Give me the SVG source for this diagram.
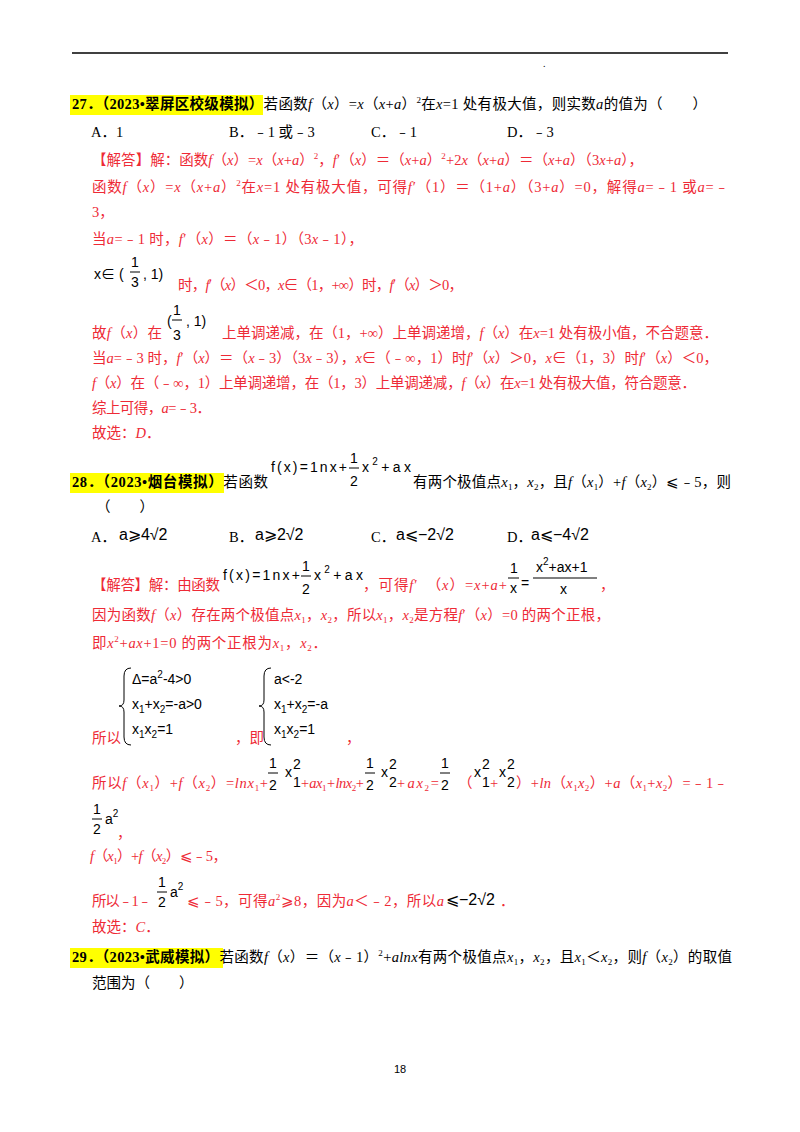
<svg xmlns="http://www.w3.org/2000/svg" width="800" height="1132" viewBox="0 0 800 1132">
<style>
text{font-family:"Liberation Serif","Noto Sans CJK SC",serif;font-size:14.5px;fill:#000}
.r{fill:#ee2a36}
.m{font-family:"Liberation Sans","Noto Sans CJK SC",sans-serif;font-size:14px;fill:#000}
.o{font-family:"Liberation Sans",sans-serif;font-size:16px;fill:#000}
.s{font-size:10px}
.hl{fill:#ffff00}
.fl{stroke:#000;stroke-width:1}
</style>
<rect width="800" height="1132" fill="#fff"/>
<line x1="72" y1="53" x2="728" y2="53" stroke="#000" stroke-width="1.5"/>
<text x="543" y="67" class="s">.</text>

<rect class="hl" x="70" y="95" width="193" height="20"/>
<text x="72" y="109" textLength="635" lengthAdjust="spacing"><tspan font-weight="bold">27．（2023•翠屏区校级模拟）</tspan>若函数<tspan font-style="italic">f</tspan>（<tspan font-style="italic">x</tspan>）=<tspan font-style="italic">x</tspan>（<tspan font-style="italic">x</tspan>+<tspan font-style="italic">a</tspan>）<tspan dy="-6" font-size="9">2</tspan><tspan dy="6">在</tspan><tspan font-style="italic">x</tspan>=1 处有极大值，则实数<tspan font-style="italic">a</tspan>的值为（　　）</text>
<text x="91" y="137">A．1</text><text x="229" y="137">B．﹣1 或﹣3</text><text x="371" y="137">C．﹣1</text><text x="507" y="137">D．﹣3</text>

<text class="r" x="92" y="165" textLength="551" lengthAdjust="spacing">【解答】解：函数<tspan font-style="italic">f</tspan>（<tspan font-style="italic">x</tspan>）=<tspan font-style="italic">x</tspan>（<tspan font-style="italic">x</tspan>+<tspan font-style="italic">a</tspan>）<tspan dy="-6" font-size="9">2</tspan><tspan dy="6">，</tspan><tspan font-style="italic">f</tspan>′（<tspan font-style="italic">x</tspan>）＝（<tspan font-style="italic">x</tspan>+<tspan font-style="italic">a</tspan>）<tspan dy="-6" font-size="9">2</tspan><tspan dy="6">+2</tspan><tspan font-style="italic">x</tspan>（<tspan font-style="italic">x</tspan>+<tspan font-style="italic">a</tspan>）＝（<tspan font-style="italic">x</tspan>+<tspan font-style="italic">a</tspan>）（3<tspan font-style="italic">x</tspan>+<tspan font-style="italic">a</tspan>），</text>
<text class="r" x="92" y="192" textLength="637" lengthAdjust="spacing">函数<tspan font-style="italic">f</tspan>（<tspan font-style="italic">x</tspan>）=<tspan font-style="italic">x</tspan>（<tspan font-style="italic">x</tspan>+<tspan font-style="italic">a</tspan>）<tspan dy="-6" font-size="9">2</tspan><tspan dy="6">在</tspan><tspan font-style="italic">x</tspan>=1 处有极大值，可得<tspan font-style="italic">f</tspan>′（1）＝（1+<tspan font-style="italic">a</tspan>）（3+<tspan font-style="italic">a</tspan>）=0，解得<tspan font-style="italic">a</tspan>=﹣1 或<tspan font-style="italic">a</tspan>=﹣</text>
<text class="r" x="92" y="217">3，</text>
<text class="r" x="92" y="244" textLength="271" lengthAdjust="spacing">当<tspan font-style="italic">a</tspan>=﹣1 时，<tspan font-style="italic">f</tspan>′（<tspan font-style="italic">x</tspan>）＝（<tspan font-style="italic">x</tspan>﹣1）（3<tspan font-style="italic">x</tspan>﹣1），</text>
<text class="m" x="94" y="279">x∈ (</text>
<text class="m" x="131" y="267">1</text><line class="fl" x1="130" y1="272" x2="140" y2="272"/><text class="m" x="131" y="287">3</text>
<text class="m" x="143" y="279">,  1)</text>
<text class="r" x="178" y="290" textLength="285" lengthAdjust="spacing">时，<tspan font-style="italic">f</tspan>′（<tspan font-style="italic">x</tspan>）＜0，<tspan font-style="italic">x</tspan>∈（1，+∞）时，<tspan font-style="italic">f</tspan>′（<tspan font-style="italic">x</tspan>）＞0，</text>

<text class="r" x="92" y="338" textLength="70" lengthAdjust="spacing">故<tspan font-style="italic">f</tspan>（<tspan font-style="italic">x</tspan>）在</text>
<text class="m" x="167" y="326">(</text><text class="m" x="173" y="315">1</text><line class="fl" x1="172" y1="320" x2="182" y2="320"/><text class="m" x="173" y="340">3</text><text class="m" x="186" y="326">,  1)</text>
<text class="r" x="222" y="338" textLength="496" lengthAdjust="spacing">上单调递减，在（1，+∞）上单调递增，<tspan font-style="italic">f</tspan>（<tspan font-style="italic">x</tspan>）在<tspan font-style="italic">x</tspan>=1 处有极小值，不合题意．</text>
<text class="r" x="92" y="363" textLength="626" lengthAdjust="spacing">当<tspan font-style="italic">a</tspan>=﹣3 时，<tspan font-style="italic">f</tspan>′（<tspan font-style="italic">x</tspan>）＝（<tspan font-style="italic">x</tspan>﹣3）（3<tspan font-style="italic">x</tspan>﹣3），<tspan font-style="italic">x</tspan>∈（﹣∞，1）时<tspan font-style="italic">f</tspan>′（<tspan font-style="italic">x</tspan>）＞0，<tspan font-style="italic">x</tspan>∈（1，3）时<tspan font-style="italic">f</tspan>′（<tspan font-style="italic">x</tspan>）＜0，</text>
<text class="r" x="92" y="388" textLength="604" lengthAdjust="spacing"><tspan font-style="italic">f</tspan>（<tspan font-style="italic">x</tspan>）在（﹣∞，1）上单调递增，在（1，3）上单调递减，<tspan font-style="italic">f</tspan>（<tspan font-style="italic">x</tspan>）在<tspan font-style="italic">x</tspan>=1 处有极大值，符合题意．</text>
<text class="r" x="92" y="413" textLength="119" lengthAdjust="spacing">综上可得，<tspan font-style="italic">a</tspan>=﹣3．</text>
<text class="r" x="92" y="438">故选：<tspan font-style="italic">D</tspan>．</text>

<rect class="hl" x="70" y="473" width="154" height="20"/>
<text x="72" y="487" textLength="196" lengthAdjust="spacing"><tspan font-weight="bold">28．（2023•烟台模拟）</tspan>若函数</text>
<text class="m" x="271" y="472" textLength="76" lengthAdjust="spacing">f(x)=1nx+</text><text class="m" x="350" y="463">1</text><line class="fl" x1="349" y1="468" x2="359" y2="468"/><text class="m" x="350" y="486">2</text><text class="m" x="362" y="472" textLength="49" lengthAdjust="spacing">x<tspan dy="-7" font-size="10">2</tspan><tspan dy="7">+ax</tspan></text>
<text x="413" y="487" textLength="318" lengthAdjust="spacing">有两个极值点<tspan font-style="italic">x</tspan><tspan dy="3" font-size="9">1</tspan><tspan dy="-3">，</tspan><tspan font-style="italic">x</tspan><tspan dy="3" font-size="9">2</tspan><tspan dy="-3">，且</tspan><tspan font-style="italic">f</tspan>（<tspan font-style="italic">x</tspan><tspan dy="3" font-size="9">1</tspan><tspan dy="-3">）+</tspan><tspan font-style="italic">f</tspan>（<tspan font-style="italic">x</tspan><tspan dy="3" font-size="9">2</tspan><tspan dy="-3">）⩽﹣5，则</tspan></text>
<text x="96" y="512">（　　）</text>
<text x="91" y="542">A．</text><text class="o" x="119" y="540">a⩾4√2</text>
<text x="229" y="542">B．</text><text class="o" x="255" y="540">a⩾2√2</text>
<text x="371" y="542">C．</text><text class="o" x="396" y="540">a⩽−2√2</text>
<text x="507" y="542">D．</text><text class="o" x="531" y="540">a⩽−4√2</text>

<text class="r" x="92" y="590" textLength="128" lengthAdjust="spacing">【解答】解：由函数</text>
<text class="m" x="223" y="580" textLength="77" lengthAdjust="spacing">f(x)=1nx+</text><text class="m" x="302" y="571">1</text><line class="fl" x1="301" y1="576" x2="311" y2="576"/><text class="m" x="302" y="594">2</text><text class="m" x="314" y="580" textLength="49" lengthAdjust="spacing">x<tspan dy="-7" font-size="10">2</tspan><tspan dy="7">+ax</tspan></text>
<text class="r" x="363" y="590" textLength="144" lengthAdjust="spacing">，可得<tspan font-style="italic">f</tspan>′　（<tspan font-style="italic">x</tspan>）=<tspan font-style="italic">x</tspan>+<tspan font-style="italic">a</tspan>+</text>
<text class="m" x="510" y="573">1</text><line class="fl" x1="508" y1="578" x2="519" y2="578"/><text class="m" x="510" y="593">x</text>
<text class="m" x="521" y="588">=</text>
<text class="m" x="536" y="572">x<tspan dy="-7" font-size="10">2</tspan><tspan dy="7">+ax+1</tspan></text><line class="fl" x1="533" y1="578" x2="597" y2="578"/><text class="m" x="560" y="594">x</text>
<text class="r" x="600" y="590">，</text>
<text class="r" x="92" y="620" textLength="518" lengthAdjust="spacing">因为函数<tspan font-style="italic">f</tspan>（<tspan font-style="italic">x</tspan>）存在两个极值点<tspan font-style="italic">x</tspan><tspan dy="3" font-size="9">1</tspan><tspan dy="-3">，</tspan><tspan font-style="italic">x</tspan><tspan dy="3" font-size="9">2</tspan><tspan dy="-3">，所以</tspan><tspan font-style="italic">x</tspan><tspan dy="3" font-size="9">1</tspan><tspan dy="-3">，</tspan><tspan font-style="italic">x</tspan><tspan dy="3" font-size="9">2</tspan><tspan dy="-3">是方程</tspan><tspan font-style="italic">f</tspan>′（<tspan font-style="italic">x</tspan>）=0 的两个正根，</text>
<text class="r" x="92" y="648" textLength="235" lengthAdjust="spacing">即<tspan font-style="italic">x</tspan><tspan dy="-6" font-size="9">2</tspan><tspan dy="6">+</tspan><tspan font-style="italic">ax</tspan>+1=0 的两个正根为<tspan font-style="italic">x</tspan><tspan dy="3" font-size="9">1</tspan><tspan dy="-3">，</tspan><tspan font-style="italic">x</tspan><tspan dy="3" font-size="9">2</tspan><tspan dy="-3">．</tspan></text>

<path d="M131,668 Q124,668 124,676 L124,700 Q124,706 119,706 Q124,706 124,712 L124,737 Q124,745 131,745" fill="none" stroke="#000"/>
<text class="m" x="132" y="684">Δ=a<tspan dy="-6" font-size="10">2</tspan><tspan dy="6">-4&gt;0</tspan></text>
<text class="m" x="132" y="709">x<tspan dy="4" font-size="10">1</tspan><tspan dy="-4">+x</tspan><tspan dy="4" font-size="10">2</tspan><tspan dy="-4">=-a&gt;0</tspan></text>
<text class="m" x="132" y="734">x<tspan dy="4" font-size="10">1</tspan><tspan dy="-4">x</tspan><tspan dy="4" font-size="10">2</tspan><tspan dy="-4">=1</tspan></text>
<text class="r" x="92" y="743">所以</text>
<text class="r" x="235" y="743">，即</text>
<path d="M271,668 Q264,668 264,676 L264,700 Q264,706 259,706 Q264,706 264,712 L264,737 Q264,745 271,745" fill="none" stroke="#000"/>
<text class="m" x="274" y="684">a&lt;-2</text>
<text class="m" x="274" y="709">x<tspan dy="4" font-size="10">1</tspan><tspan dy="-4">+x</tspan><tspan dy="4" font-size="10">2</tspan><tspan dy="-4">=-a</tspan></text>
<text class="m" x="274" y="734">x<tspan dy="4" font-size="10">1</tspan><tspan dy="-4">x</tspan><tspan dy="4" font-size="10">2</tspan><tspan dy="-4">=1</tspan></text>
<text class="r" x="346" y="743">，</text>

<text class="r" x="92" y="788" textLength="176" lengthAdjust="spacing">所以<tspan font-style="italic">f</tspan>（<tspan font-style="italic">x</tspan><tspan dy="3" font-size="9">1</tspan><tspan dy="-3">）+</tspan><tspan font-style="italic">f</tspan>（<tspan font-style="italic">x</tspan><tspan dy="3" font-size="9">2</tspan><tspan dy="-3">）=</tspan><tspan font-style="italic">lnx</tspan><tspan dy="3" font-size="9">1</tspan><tspan dy="-3">+</tspan></text>
<text class="m" x="269" y="768">1</text><line class="fl" x1="268" y1="773" x2="278" y2="773"/><text class="m" x="269" y="790">2</text>
<text class="m" x="285" y="777">x</text><text class="m" x="293" y="769" font-size="10">2</text><text class="m" x="293" y="787" font-size="10">1</text>
<text class="r" x="300" y="788" textLength="64" lengthAdjust="spacing"><tspan font-style="italic">+ax</tspan><tspan dy="3" font-size="9">1</tspan><tspan dy="-3" font-style="italic">+lnx</tspan><tspan dy="3" font-size="9">2</tspan><tspan dy="-3">+</tspan></text>
<text class="m" x="366" y="768">1</text><line class="fl" x1="365" y1="773" x2="375" y2="773"/><text class="m" x="366" y="790">2</text>
<text class="m" x="381" y="777">x</text><text class="m" x="389" y="769" font-size="10">2</text><text class="m" x="389" y="787" font-size="10">2</text>
<text class="r" x="396" y="788" textLength="43" lengthAdjust="spacing"><tspan font-style="italic">+ax</tspan><tspan dy="3" font-size="9">2</tspan><tspan dy="-3">=</tspan></text>
<text class="m" x="441" y="768">1</text><line class="fl" x1="440" y1="773" x2="450" y2="773"/><text class="m" x="441" y="790">2</text>
<text class="r" x="458" y="788">（</text>
<text class="m" x="474" y="777">x</text><text class="m" x="482" y="769" font-size="10">2</text><text class="m" x="482" y="787" font-size="10">1</text>
<text class="r" x="490" y="788">+</text>
<text class="m" x="499" y="777">x</text><text class="m" x="507" y="769" font-size="10">2</text><text class="m" x="507" y="787" font-size="10">2</text>
<text class="r" x="516" y="788" textLength="212" lengthAdjust="spacing">）+<tspan font-style="italic">ln</tspan>（<tspan font-style="italic">x</tspan><tspan dy="3" font-size="9">1</tspan><tspan dy="-3" font-style="italic">x</tspan><tspan dy="3" font-size="9">2</tspan><tspan dy="-3">）+</tspan><tspan font-style="italic">a</tspan>（<tspan font-style="italic">x</tspan><tspan dy="3" font-size="9">1</tspan><tspan dy="-3">+</tspan><tspan font-style="italic">x</tspan><tspan dy="3" font-size="9">2</tspan><tspan dy="-3">）=﹣1﹣</tspan></text>
<text class="m" x="93" y="814">1</text><line class="fl" x1="92" y1="819" x2="102" y2="819"/><text class="m" x="93" y="834">2</text>
<text class="m" x="105" y="824">a<tspan dy="-7" font-size="10">2</tspan></text>
<text class="r" x="117" y="838">，</text>

<text class="r" x="90" y="861" textLength="137" lengthAdjust="spacing"><tspan font-style="italic">f</tspan>（<tspan font-style="italic">x</tspan><tspan dy="3" font-size="9">1</tspan><tspan dy="-3">）+</tspan><tspan font-style="italic">f</tspan>（<tspan font-style="italic">x</tspan><tspan dy="3" font-size="9">2</tspan><tspan dy="-3">）⩽﹣5，</tspan></text>
<text class="r" x="92" y="906" textLength="60" lengthAdjust="spacing">所以﹣1﹣</text>
<text class="m" x="158" y="887">1</text><line class="fl" x1="157" y1="892" x2="167" y2="892"/><text class="m" x="158" y="907">2</text>
<text class="m" x="170" y="897">a<tspan dy="-7" font-size="10">2</tspan></text>
<text class="r" x="187" y="906" textLength="257" lengthAdjust="spacing">⩽﹣5，可得<tspan font-style="italic">a</tspan><tspan dy="-6" font-size="9">2</tspan><tspan dy="6">⩾8，因为</tspan><tspan font-style="italic">a</tspan>＜﹣2，所以<tspan font-style="italic">a</tspan></text>
<text class="o" x="446" y="905">⩽−2√2</text>
<text class="r" x="500" y="906">．</text>
<text class="r" x="92" y="932">故选：<tspan font-style="italic">C</tspan>．</text>

<rect class="hl" x="70" y="948" width="153" height="20"/>
<text x="72" y="962" textLength="660" lengthAdjust="spacing"><tspan font-weight="bold">29．（2023•武威模拟）</tspan>若函数<tspan font-style="italic">f</tspan>（<tspan font-style="italic">x</tspan>）＝（<tspan font-style="italic">x</tspan>﹣1）<tspan dy="-6" font-size="9">2</tspan><tspan dy="6">+</tspan><tspan font-style="italic">alnx</tspan>有两个极值点<tspan font-style="italic">x</tspan><tspan dy="3" font-size="9">1</tspan><tspan dy="-3">，</tspan><tspan font-style="italic">x</tspan><tspan dy="3" font-size="9">2</tspan><tspan dy="-3">，且</tspan><tspan font-style="italic">x</tspan><tspan dy="3" font-size="9">1</tspan><tspan dy="-3">＜</tspan><tspan font-style="italic">x</tspan><tspan dy="3" font-size="9">2</tspan><tspan dy="-3">，则</tspan><tspan font-style="italic">f</tspan>（<tspan font-style="italic">x</tspan><tspan dy="3" font-size="9">2</tspan><tspan dy="-3">）的取值</tspan></text>
<text x="92" y="988">范围为（　　）</text>

<text x="400" y="1073" text-anchor="middle" style="font-family:'Liberation Sans',sans-serif;font-size:11px">18</text>
</svg>
